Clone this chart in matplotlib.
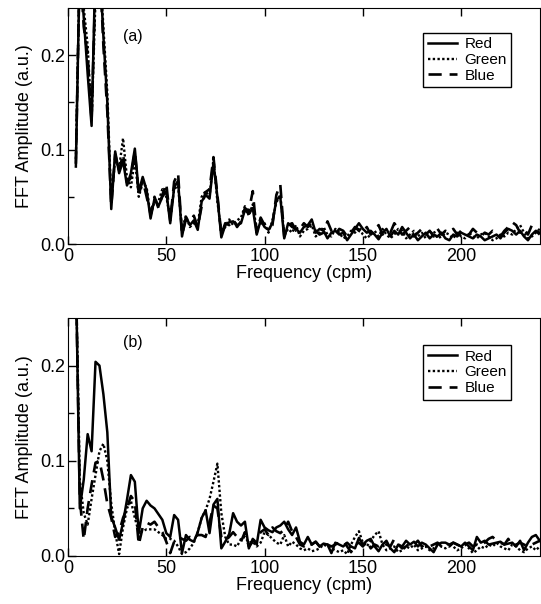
import numpy as np
import matplotlib.pyplot as plt

plt.rcParams['font.family'] = ['Liberation Sans', 'DejaVu Sans']

# frequency grid (cpm)
freq = np.arange(4, 242, 2)

# panel (a)
red_a = [0.082, 0.30, 0.24, 0.18, 0.125, 0.30, 0.30, 0.22, 0.15, 0.037,
         0.098, 0.075, 0.088, 0.062, 0.075, 0.101, 0.055, 0.071, 0.057, 0.027,
         0.048, 0.040, 0.050, 0.056, 0.022, 0.060, 0.067, 0.008, 0.029, 0.020,
         0.025, 0.015, 0.045, 0.052, 0.048, 0.086, 0.050, 0.007, 0.020, 0.023,
         0.024, 0.020, 0.022, 0.036, 0.032, 0.038, 0.010, 0.025, 0.018, 0.015,
         0.022, 0.047, 0.050, 0.006, 0.022, 0.018, 0.016, 0.012, 0.018, 0.020,
         0.026, 0.012, 0.016, 0.014, 0.006, 0.012, 0.014, 0.010, 0.012, 0.004,
         0.010, 0.016, 0.022, 0.016, 0.012, 0.014, 0.010, 0.005, 0.012, 0.016,
         0.008, 0.014, 0.010, 0.018, 0.012, 0.006, 0.010, 0.004, 0.008, 0.012,
         0.006, 0.010, 0.008, 0.012, 0.006, 0.004, 0.010, 0.008, 0.012, 0.010,
         0.008, 0.006, 0.010, 0.008, 0.004, 0.006, 0.008, 0.010, 0.006, 0.012,
         0.016, 0.014, 0.010, 0.014, 0.008, 0.004, 0.010, 0.014, 0.012]
green_a = [0.090, 0.30, 0.25, 0.21, 0.130, 0.26, 0.30, 0.23, 0.16, 0.045,
           0.090, 0.080, 0.112, 0.070, 0.060, 0.090, 0.050, 0.065, 0.060, 0.030,
           0.045, 0.045, 0.058, 0.050, 0.028, 0.058, 0.062, 0.015, 0.030, 0.018,
           0.022, 0.020, 0.050, 0.056, 0.050, 0.090, 0.045, 0.012, 0.018, 0.026,
           0.020, 0.025, 0.028, 0.040, 0.030, 0.042, 0.015, 0.022, 0.022, 0.012,
           0.025, 0.044, 0.052, 0.010, 0.016, 0.012, 0.020, 0.008, 0.014, 0.016,
           0.020, 0.008, 0.012, 0.018, 0.010, 0.008, 0.016, 0.012, 0.006, 0.008,
           0.014, 0.012, 0.018, 0.010, 0.006, 0.010, 0.014, 0.008, 0.016, 0.010,
           0.006, 0.010, 0.016, 0.014, 0.006, 0.010, 0.014, 0.008, 0.012, 0.006,
           0.010, 0.014, 0.006, 0.008, 0.012, 0.010, 0.006, 0.012, 0.008, 0.006,
           0.012, 0.008, 0.006, 0.010, 0.012, 0.008, 0.004, 0.006, 0.010, 0.008,
           0.012, 0.010, 0.016, 0.020, 0.012, 0.006, 0.008, 0.012, 0.016]
blue_a = [0.085, 0.30, 0.23, 0.20, 0.130, 0.28, 0.30, 0.21, 0.14, 0.040,
          0.095, 0.078, 0.095, 0.065, 0.070, 0.098, 0.052, 0.068, 0.050, 0.032,
          0.050, 0.038, 0.052, 0.064, 0.025, 0.066, 0.075, 0.010, 0.026, 0.024,
          0.030, 0.018, 0.040, 0.055, 0.058, 0.092, 0.052, 0.010, 0.022, 0.020,
          0.026, 0.018, 0.024, 0.038, 0.035, 0.056, 0.012, 0.028, 0.020, 0.018,
          0.020, 0.052, 0.063, 0.008, 0.020, 0.022, 0.014, 0.016, 0.022, 0.018,
          0.022, 0.014, 0.010, 0.012, 0.024, 0.014, 0.010, 0.016, 0.014, 0.008,
          0.012, 0.018, 0.014, 0.012, 0.018, 0.010, 0.014, 0.020, 0.010, 0.014,
          0.012, 0.022, 0.016, 0.010, 0.014, 0.018, 0.008, 0.012, 0.016, 0.010,
          0.014, 0.008, 0.016, 0.010, 0.014, 0.012, 0.016, 0.010, 0.014, 0.012,
          0.010, 0.016, 0.012, 0.008, 0.012, 0.010, 0.014, 0.012, 0.008, 0.014,
          0.018, 0.023, 0.020, 0.012, 0.016, 0.010, 0.020, 0.014, 0.010]

# panel (b)
red_b = [0.30, 0.050, 0.080, 0.128, 0.110, 0.204, 0.200, 0.170, 0.130, 0.041,
         0.030, 0.017, 0.035, 0.059, 0.085, 0.078, 0.024, 0.050, 0.058, 0.053,
         0.050, 0.044, 0.038, 0.024, 0.020, 0.043, 0.038, 0.003, 0.022, 0.017,
         0.015, 0.025, 0.040, 0.048, 0.024, 0.054, 0.060, 0.008, 0.015, 0.023,
         0.045, 0.036, 0.032, 0.036, 0.008, 0.018, 0.012, 0.038, 0.030, 0.027,
         0.025, 0.030, 0.032, 0.036, 0.028, 0.022, 0.030, 0.015, 0.012, 0.020,
         0.012, 0.015, 0.010, 0.013, 0.012, 0.003, 0.014, 0.012, 0.010, 0.014,
         0.010, 0.008, 0.019, 0.012, 0.016, 0.018, 0.010, 0.005, 0.012, 0.016,
         0.008, 0.004, 0.012, 0.010, 0.016, 0.012, 0.015, 0.010, 0.014, 0.012,
         0.008, 0.004, 0.012, 0.014, 0.014, 0.012, 0.014, 0.012, 0.010, 0.014,
         0.010, 0.006, 0.020, 0.014, 0.016, 0.012, 0.013, 0.014, 0.015, 0.012,
         0.013, 0.014, 0.010, 0.016, 0.006, 0.014, 0.020, 0.022, 0.016]
green_b = [0.30, 0.080, 0.045, 0.033, 0.060, 0.085, 0.110, 0.118, 0.100, 0.055,
           0.025, 0.002, 0.030, 0.050, 0.058, 0.040, 0.025, 0.026, 0.028, 0.028,
           0.028, 0.025, 0.022, 0.018, 0.018, 0.016, 0.010, 0.002, 0.004, 0.008,
           0.014, 0.025, 0.040, 0.048, 0.060, 0.078, 0.097, 0.045, 0.020, 0.012,
           0.012, 0.010, 0.018, 0.020, 0.014, 0.015, 0.010, 0.014, 0.025, 0.022,
           0.018, 0.014, 0.012, 0.022, 0.010, 0.015, 0.012, 0.008, 0.006, 0.008,
           0.005, 0.006, 0.008, 0.012, 0.010, 0.008, 0.006, 0.004, 0.006, 0.002,
           0.012, 0.020, 0.026, 0.014, 0.010, 0.016, 0.022, 0.026, 0.012, 0.006,
           0.008, 0.010, 0.004, 0.006, 0.010, 0.008, 0.012, 0.006, 0.008, 0.010,
           0.006, 0.008, 0.012, 0.010, 0.008, 0.014, 0.010, 0.006, 0.008, 0.012,
           0.008, 0.003, 0.006, 0.010, 0.008, 0.012, 0.010, 0.014, 0.010, 0.008,
           0.006, 0.012, 0.010, 0.006, 0.004, 0.008, 0.010, 0.006, 0.010]
blue_b = [0.30, 0.060, 0.017, 0.050, 0.075, 0.098, 0.100, 0.080, 0.055, 0.040,
          0.020, 0.025, 0.040, 0.050, 0.063, 0.057, 0.012, 0.030, 0.035, 0.033,
          0.036, 0.030, 0.025, 0.015, 0.003, 0.015, 0.020, 0.018, 0.016, 0.020,
          0.018, 0.022, 0.022, 0.020, 0.035, 0.053, 0.050, 0.020, 0.016, 0.020,
          0.025, 0.020, 0.015, 0.025, 0.010, 0.015, 0.018, 0.025, 0.028, 0.022,
          0.030, 0.026, 0.024, 0.028, 0.036, 0.026, 0.020, 0.012, 0.010, 0.014,
          0.012, 0.015, 0.010, 0.008, 0.012, 0.010, 0.012, 0.014, 0.016, 0.010,
          0.004, 0.012, 0.014, 0.010, 0.016, 0.008, 0.012, 0.010, 0.014, 0.012,
          0.010, 0.018, 0.012, 0.008, 0.010, 0.014, 0.012, 0.016, 0.010, 0.012,
          0.010, 0.012, 0.014, 0.010, 0.012, 0.010, 0.014, 0.012, 0.010, 0.012,
          0.014, 0.010, 0.012, 0.010, 0.014, 0.018, 0.020, 0.016, 0.014, 0.012,
          0.018, 0.010, 0.012, 0.014, 0.012, 0.010, 0.012, 0.014, 0.016]

names = ["Red", "Green", "Blue"]
panels = [("(a)", [red_a, green_a, blue_a]), ("(b)", [red_b, green_b, blue_b])]
styles = [dict(ls='-', lw=1.8), dict(ls=(0, (1, 1)), lw=1.7), dict(ls=(0, (5, 3)), lw=1.9)]

fig = plt.figure(figsize=(5.41, 6.04), dpi=100)
boxes = [[0.1257, 0.596, 0.872, 0.391], [0.1257, 0.0795, 0.872, 0.394]]

for (tag, series), box in zip(panels, boxes):
    ax = fig.add_axes(box)
    for name, vals, st in zip(names, series, styles):
        ax.plot(freq, vals, color='black', label=name, **st)
    ax.set_xlim(0, 240)
    ax.set_ylim(0, 0.25)
    ax.set_xticks([0, 50, 100, 150, 200])
    ax.set_yticks([0.0, 0.1, 0.2])
    ax.set_yticklabels(["0.0", "0.1", "0.2"])
    ax.set_yticks([0.05, 0.15], minor=True)
    ax.tick_params(direction='in', labelsize=13, top=True, right=False, length=6, width=1)
    ax.tick_params(which='minor', direction='in', length=4, width=1, left=True)
    ax.tick_params(axis='x', pad=3)
    ax.tick_params(axis='y', pad=2)
    ax.set_xlabel("Frequency (cpm)", fontsize=13, labelpad=0)
    ax.set_ylabel("FFT Amplitude (a.u.)", fontsize=13)
    ax.yaxis.set_label_coords(-0.074, 0.5)
    ax.text(0.138, 0.88 if tag == "(a)" else 0.895, tag, transform=ax.transAxes,
            fontsize=11.5, ha='center', va='center')
    leg = ax.legend(loc='upper right', bbox_to_anchor=(0.939, 0.894 if tag == "(a)" else 0.885),
                    borderaxespad=0, fontsize=11, frameon=True, fancybox=False,
                    edgecolor='black', framealpha=1, handlelength=1.9,
                    handletextpad=0.5, labelspacing=0.12, borderpad=0.28)
    leg.get_frame().set_linewidth(1.0)

plt.savefig("out.png", dpi=100)
